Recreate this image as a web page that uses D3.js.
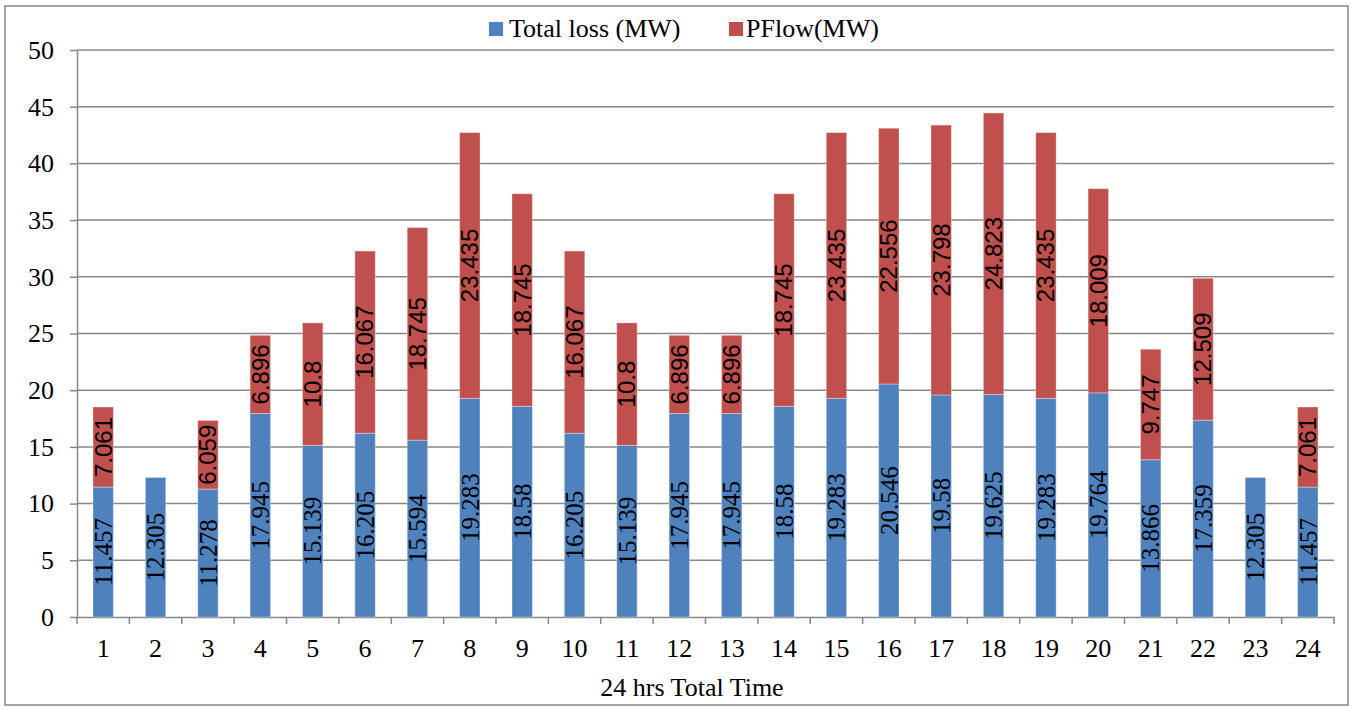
<!DOCTYPE html>
<html>
<head>
<meta charset="utf-8">
<script src="https://cdn.jsdelivr.net/npm/d3@7"></script>
<style>
  html, body { margin: 0; padding: 0; background: #fff; }
  svg { display: block; }
</style>
</head>
<body>
<svg id="chart" width="1351" height="707"></svg>
<script>
// Hourly stacked values (MW)
const hours = ["1","2","3","4","5","6","7","8","9","10","11","12","13","14","15","16","17","18","19","20","21","22","23","24"];
const totalLoss = [11.457, 12.305, 11.278, 17.945, 15.139, 16.205, 15.594, 19.283, 18.58, 16.205, 15.139, 17.945,
                   17.945, 18.58, 19.283, 20.546, 19.58, 19.625, 19.283, 19.764, 13.866, 17.359, 12.305, 11.457];
const pFlow = [7.061, 0, 6.059, 6.896, 10.8, 16.067, 18.745, 23.435, 18.745, 16.067, 10.8, 6.896,
               6.896, 18.745, 23.435, 22.556, 23.798, 24.823, 23.435, 18.009, 9.747, 12.509, 0, 7.061];
const yTicks = [0, 5, 10, 15, 20, 25, 30, 35, 40, 45, 50];
const seriesNames = ["Total loss (MW)", "PFlow(MW)"];
const xTitle = "24 hrs Total Time";

const colors = { loss: "#4F81BD", flow: "#C0504D" };
const gridColor = "#878787";
const serif = "'Liberation Serif', 'Times New Roman', serif";
const sans = "'Liberation Sans', Arial, sans-serif";

const svg = d3.select("#chart");
const plot = { left: 77, right: 1334, top: 50, bottom: 617 };

const x = d3.scaleBand().domain(hours).range([plot.left, plot.right]).padding(0);
const y = d3.scaleLinear().domain([0, 50]).range([plot.bottom, plot.top]);
const barW = x.bandwidth() * 0.39;

// Outer frame
svg.append("rect")
  .attr("x", 5).attr("y", 6).attr("width", 1343).attr("height", 699)
  .attr("fill", "none").attr("stroke", gridColor).attr("stroke-width", 1.5);

// Horizontal gridlines
svg.append("g").selectAll("line")
  .data(yTicks.filter(t => t > 0))
  .join("line")
  .attr("x1", plot.left).attr("x2", plot.right)
  .attr("y1", d => y(d)).attr("y2", d => y(d))
  .attr("stroke", gridColor).attr("stroke-width", 1.5);

// Y axis
const yAxis = svg.append("g")
  .attr("transform", `translate(${plot.left},0)`)
  .call(d3.axisLeft(y).tickValues(yTicks).tickSize(7).tickPadding(16).tickSizeOuter(0));
yAxis.select(".domain").attr("stroke", gridColor).attr("stroke-width", 1.5);
yAxis.selectAll(".tick line").attr("stroke", gridColor).attr("stroke-width", 1.5);
yAxis.selectAll("text")
  .attr("font-family", serif).attr("font-size", 26).attr("fill", "#000");

// X axis: category labels at band centers, tick marks at band boundaries
const xAxis = svg.append("g")
  .attr("transform", `translate(0,${plot.bottom})`)
  .call(d3.axisBottom(x).tickSize(0).tickSizeOuter(0));
xAxis.select(".domain").attr("stroke", gridColor).attr("stroke-width", 1.5);
xAxis.selectAll("text")
  .attr("font-family", serif).attr("font-size", 26).attr("fill", "#000")
  .attr("y", 40).attr("dy", 0);

const boundaries = hours.map(h => x(h)).concat([x.range()[1]]);
xAxis.append("g").selectAll("line")
  .data(boundaries)
  .join("line")
  .attr("x1", d => d).attr("x2", d => d)
  .attr("y1", 0).attr("y2", 7)
  .attr("stroke", gridColor).attr("stroke-width", 1.5);

// Stacked bars
const rows = hours.map((h, i) => ({ hour: h, loss: totalLoss[i], flow: pFlow[i] }));
const stack = d3.stack().keys(["loss", "flow"])(rows);

const barLayer = svg.append("g");
stack.forEach(layer => {
  const key = layer.key;
  barLayer.append("g").selectAll("rect")
    .data(layer.filter(d => d[1] - d[0] > 0))
    .join("rect")
    .attr("x", d => x(d.data.hour) + x.bandwidth() / 2 - barW / 2)
    .attr("width", barW)
    .attr("y", d => y(d[1]))
    .attr("height", d => y(d[0]) - y(d[1]))
    .attr("fill", colors[key])
    .attr("stroke", "rgba(255,255,255,0.35)")
    .attr("stroke-width", 1);
});

// Value labels, rotated, centered in each segment
stack.forEach(layer => {
  const key = layer.key;
  svg.append("g").selectAll("text")
    .data(layer.filter(d => d[1] - d[0] > 0))
    .join("text")
    .attr("transform", d => {
      const cx = x(d.data.hour) + x.bandwidth() / 2;
      const cy = (y(d[0]) + y(d[1])) / 2;
      return `translate(${cx},${cy}) rotate(-90)`;
    })
    .attr("text-anchor", "middle")
    .attr("dy", "0.35em")
    .attr("font-family", key === "loss" ? serif : sans)
    .attr("font-size", key === "loss" ? 25 : 24)
    .attr("fill", "#000")
    .text(d => d.data[key]);
});

// Legend
const legend = svg.append("g");
const legendItems = [
  { name: seriesNames[0], color: colors.loss, sx: 489, tx: 509 },
  { name: seriesNames[1], color: colors.flow, sx: 729, tx: 746 }
];
legendItems.forEach(it => {
  legend.append("rect")
    .attr("x", it.sx).attr("y", 22).attr("width", 14).attr("height", 14)
    .attr("fill", it.color);
  legend.append("text")
    .attr("x", it.tx).attr("y", 37)
    .attr("font-family", serif).attr("font-size", 26).attr("fill", "#000")
    .text(it.name);
});

// X axis title
svg.append("text")
  .attr("x", 692).attr("y", 696)
  .attr("text-anchor", "middle")
  .attr("font-family", serif).attr("font-size", 26).attr("fill", "#000")
  .text(xTitle);
</script>
</body>
</html>
